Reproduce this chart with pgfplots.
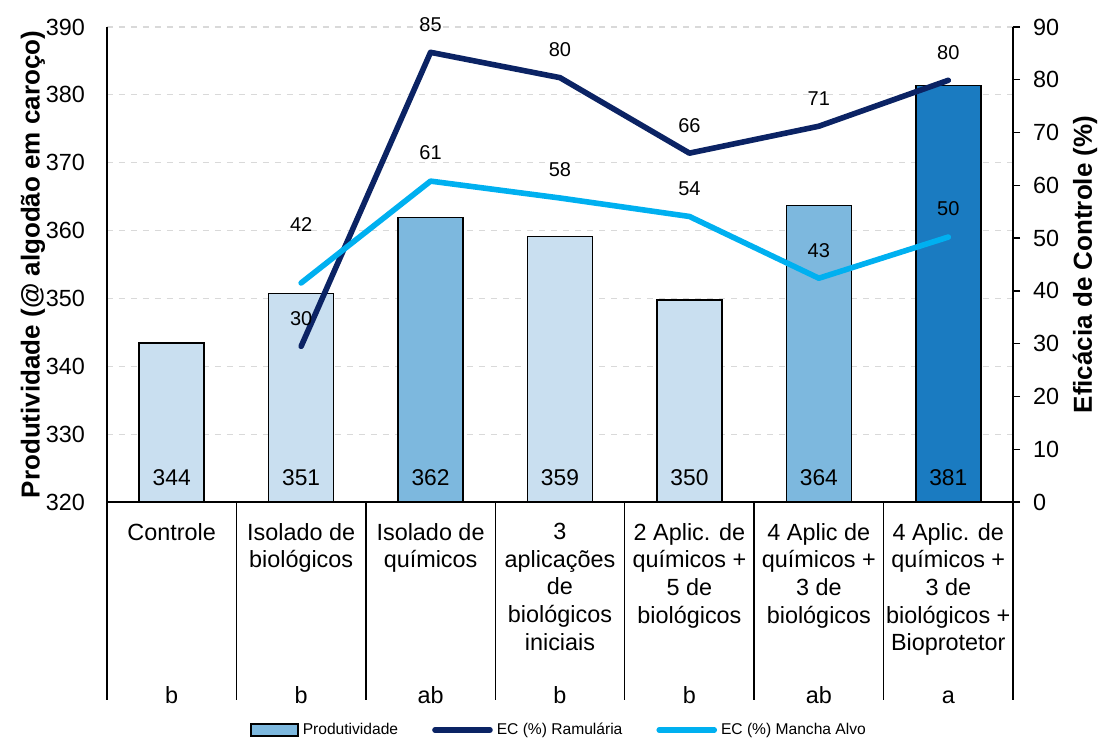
\documentclass[border=0pt]{standalone}
\usepackage{fontspec}
\setmainfont{Liberation Sans}
\usepackage{pgfplots}
\usepackage{pgfplotstable}
\pgfplotsset{compat=1.18}

\definecolor{barlight}{HTML}{C9DFF0}
\definecolor{barmid}{HTML}{7DB8DE}
\definecolor{bardark}{HTML}{1A7BC1}
\definecolor{ramul}{HTML}{0B2364}
\definecolor{alvo}{HTML}{00B0F0}
\definecolor{gridc}{HTML}{D9D9D9}
\newcommand\fs[2]{\fontsize{#1}{#2}\selectfont}

% eficacia de controle (%), labels as printed
\pgfplotstableread{
x ram ramlab alvo alvolab dy
1 29.5 30 41.5 42 29
2 85.2 85 60.8 61 14
3 80.4 80 57.6 58 14
4 66.1 66 54.1 54 14
5 71.2 71 42.4 43 14
6 79.9 80 50.2 50 14
}\ectable

\begin{document}
\begin{tikzpicture}
\useasboundingbox (-53.5pt,-118pt) rectangle (496pt,251pt);
% --- produtividade (left axis) ---
\begin{axis}[
  at={(0,0)}, anchor=south west,
  width=453pt, height=237.5pt, scale only axis,
  xmin=-0.5, xmax=6.5, ymin=320, ymax=390,
  axis x line*=bottom, axis y line*=left,
  axis line style={-, black, line width=0.7pt},
  clip mode=individual,
  ytick={320,330,...,390},
  ymajorgrids, grid style={gridc, dashed, line width=0.6pt},
  ytick style={draw=none}, xtick style={draw=none},
  xtick={0,...,6},
  xticklabels={
    Controle,
    {Isolado de\\biológicos},
    {Isolado de\\químicos},
    {3\\aplicações\\de\\biológicos\\iniciais},
    {2 Aplic. de\\químicos +\\5 de\\biológicos},
    {4 Aplic de\\químicos +\\3 de\\biológicos},
    {4 Aplic. de\\químicos +\\3 de\\biológicos +\\Bioprotetor}},
  xticklabel style={align=center, anchor=north, yshift=-7pt, font=\fs{11.7}{13.85}},
  yticklabel style={font=\fs{11.7}{14}, xshift=-7.5pt},
  /pgf/number format/assume math mode=true,
  every axis y label/.style={at={(rel axis cs:0,0.5)}, xshift=-37pt, rotate=90, anchor=center},
  ylabel={\fs{13}{15}\bfseries Produtividade (@ algodão em caroço)},
]
\addplot[ybar, bar width=32.5pt, bar shift=0pt, fill=barlight, draw=black, line width=0.8pt]
  coordinates {(0,343.4) (1,350.7) (3,359.1) (4,349.8)};
\addplot[ybar, bar width=32.5pt, bar shift=0pt, fill=barmid, draw=black, line width=0.8pt]
  coordinates {(2,361.9) (5,363.7)};
\addplot[ybar, bar width=32.5pt, bar shift=0pt, fill=bardark, draw=black, line width=0.8pt]
  coordinates {(6,381.4)};
% value labels at the foot of the bars
\addplot[draw=none, mark=none, nodes near coords, point meta=explicit symbolic,
  nodes near coords style={anchor=center, yshift=12pt, font=\fs{11.4}{13}}]
  coordinates {(0,320)[344] (1,320)[351] (2,320)[362] (3,320)[359]
               (4,320)[350] (5,320)[364] (6,320)[381]};
% table separators
\pgfplotsinvokeforeach{-0.5,0.5,1.5,2.5,3.5,4.5,5.5,6.5}{
  \draw[black, line width=0.7pt] (axis cs:#1,320) -- ++(0pt,-99pt);
}
\end{axis}

% --- eficacia (right axis) ---
\begin{axis}[
  at={(0,0)}, anchor=south west,
  width=453pt, height=237.5pt, scale only axis,
  xmin=-0.5, xmax=6.5, ymin=0, ymax=90,
  axis y line*=right, axis x line*=bottom,
  axis line style={-, black, line width=0.7pt},
  x axis line style={draw=none},
  clip=false,
  ytick={0,10,...,90}, tick align=outside, major tick length=3.5pt,
  ytick style={black, line width=0.7pt},
  xtick={0,...,6}, xticklabels={b,b,ab,b,b,ab,a}, xtick style={draw=none},
  xticklabel style={anchor=base, yshift=-97.5pt, font=\fs{11.7}{14}},
  yticklabel style={font=\fs{11.7}{14}, xshift=3pt},
  /pgf/number format/assume math mode=true,
  every axis y label/.style={at={(rel axis cs:1,0.5)}, xshift=36pt, rotate=90, anchor=center},
  ylabel={\fs{13}{15}\bfseries Eficácia de Controle (\%)},
  legend style={at={(0.5,-0.48)}, anchor=center, draw=none, fill=none,
    font=\fs{7.8}{9}, legend columns=-1,
    /tikz/every even column/.append style={column sep=15pt}},
  legend cell align=left,
]
\addlegendimage{legend image code/.code={\draw[fill=barmid, draw=black, line width=0.8pt] (0pt,-3pt) rectangle (23.5pt,3pt);}}
\addlegendentry{Produtividade}
\addplot[ramul, line width=2.8pt, line cap=round, line join=round, mark=none,
  nodes near coords, point meta=explicit symbolic,
  nodes near coords style={anchor=center, yshift=14pt, font=\fs{10}{12}, text=black},
  legend image code/.code={\draw[ramul, line width=2.8pt, line cap=round] (0pt,0pt) -- (27.5pt,0pt);}]
  table[x=x, y=ram, meta=ramlab] \ectable;
\addlegendentry{EC (\%) Ramulária}
\addplot[alvo, line width=2.8pt, line cap=round, line join=round, mark=none,
  nodes near coords, point meta=explicit symbolic,
  visualization depends on={\thisrow{dy}\as\dy},
  nodes near coords style={anchor=center, yshift=\dy*1pt, font=\fs{10}{12}, text=black},
  legend image code/.code={\draw[alvo, line width=2.8pt, line cap=round] (0pt,0pt) -- (27.5pt,0pt);}]
  table[x=x, y=alvo, meta=alvolab] \ectable;
\addlegendentry{EC (\%) Mancha Alvo}
\end{axis}
\end{tikzpicture}
\end{document}
